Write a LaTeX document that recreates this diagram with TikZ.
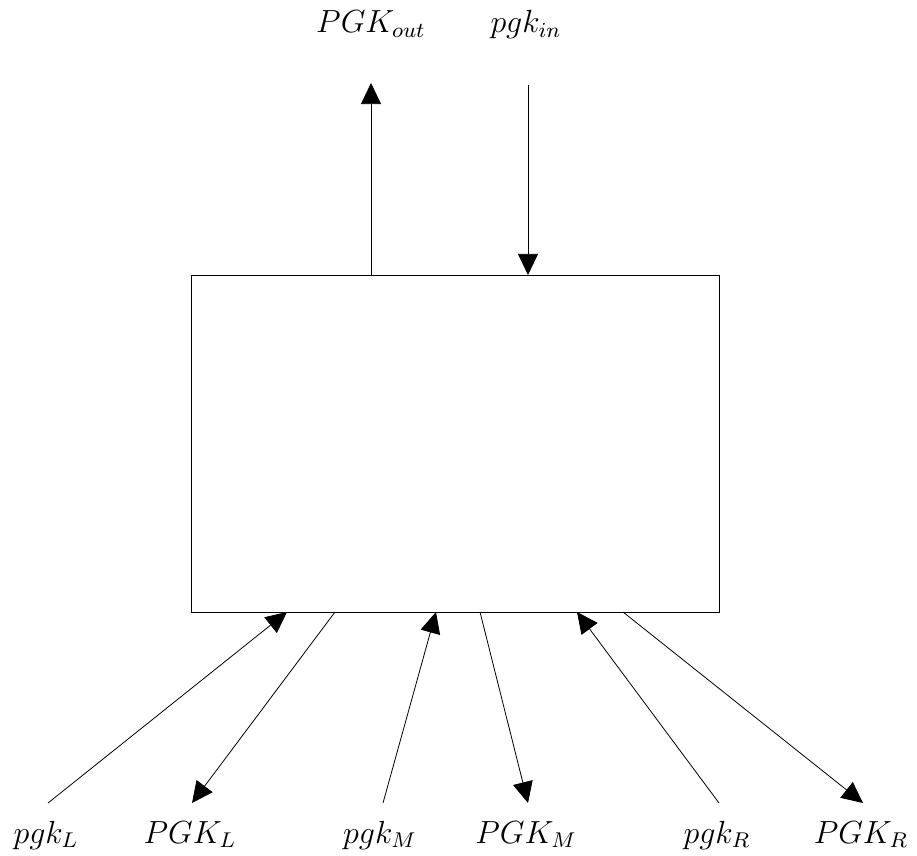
\documentclass[tikz,border=0pt]{standalone}
\usetikzlibrary{arrows.meta}
\begin{document}
\begin{tikzpicture}[x=0.375pt,y=-0.375pt,
    flow/.style={line width=0.3pt,-{Triangle[length=7.9pt,width=7.5pt]}},
    lbl/.style={anchor=base,inner sep=0pt,font=\fontsize{11.9}{14}\selectfont}]
  \useasboundingbox (0,0) rectangle (917,856);
  % central block
  \node[draw,line width=0.3pt,minimum width=528*0.375pt,minimum height=337*0.375pt,
        inner sep=0pt] (blk) at (455,443.5) {};
  % attachment points on the block
  \coordinate (tA) at (371,275);
  \coordinate (tB) at (528,275);
  \coordinate (b1) at (287,612);
  \coordinate (b2) at (335,612);
  \coordinate (b3) at (436,612);
  \coordinate (b4) at (480,612);
  \coordinate (b5) at (577,612);
  \coordinate (b6) at (623,612);
  % free ends
  \coordinate (eA) at (371,83);
  \coordinate (eB) at (528,85);
  \coordinate (e1) at (48,803);
  \coordinate (e2) at (192,803);
  \coordinate (e3) at (383,803);
  \coordinate (e4) at (528,803);
  \coordinate (e5) at (719,803);
  \coordinate (e6) at (863,803);
  % labels
  \node[lbl] (Lout) at (371,33) {$PGK_{out}$};
  \node[lbl] (Lin)  at (526,33) {$pgk_{in}$};
  \node[lbl] (L1) at (46,843)  {$pgk_L$};
  \node[lbl] (L2) at (190,843) {$PGK_L$};
  \node[lbl] (L3) at (380,843) {$pgk_M$};
  \node[lbl] (L4) at (526,843) {$PGK_M$};
  \node[lbl] (L5) at (717,843) {$pgk_R$};
  \node[lbl] (L6) at (861,843) {$PGK_R$};
  % flows
  \draw[flow] (tA) -- (eA);
  \draw[flow] (eB) -- (tB);
  \draw[flow] (e1) -- (b1);
  \draw[flow] (b2) -- (e2);
  \draw[flow] (e3) -- (b3);
  \draw[flow] (b4) -- (e4);
  \draw[flow] (e5) -- (b5);
  \draw[flow] (b6) -- (e6);
\end{tikzpicture}
\end{document}
